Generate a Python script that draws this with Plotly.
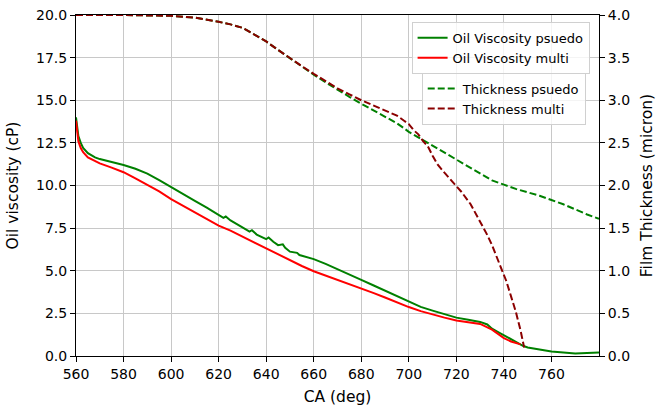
import plotly.graph_objects as go

# ---- data ----
visc_psuedo_x = [560, 561, 562, 563, 565, 568, 570, 575, 580, 585, 590, 595, 600, 605, 610, 615,
                 620, 622, 623, 625, 630, 633, 634, 636, 640, 641, 643, 645, 647, 648, 650, 653,
                 654, 656, 660, 665, 670, 675, 680, 685, 690, 695, 700, 705, 710, 715, 720, 725,
                 730, 733, 735, 737, 740, 744, 748, 750, 755, 760, 765, 770, 775, 780]
visc_psuedo_y = [14.0, 12.9, 12.5, 12.2, 11.9, 11.65, 11.55, 11.38, 11.2, 10.98, 10.7, 10.32, 9.9, 9.5, 9.1, 8.7,
                 8.28, 8.1, 8.18, 7.95, 7.55, 7.3, 7.38, 7.12, 6.85, 6.95, 6.7, 6.5, 6.55, 6.35, 6.12, 6.05,
                 5.92, 5.85, 5.68, 5.4, 5.1, 4.8, 4.47, 4.15, 3.83, 3.5, 3.17, 2.88, 2.66, 2.45, 2.25, 2.12,
                 2.0, 1.85, 1.6, 1.45, 1.22, 0.9, 0.6, 0.5, 0.36, 0.26, 0.2, 0.15, 0.18, 0.2]

visc_multi_x = [560, 561, 562, 563, 565, 570, 575, 580, 585, 590, 595, 600, 605, 610, 615, 620,
                625, 630, 635, 640, 645, 650, 655, 660, 665, 670, 675, 680, 685, 690, 695, 700,
                705, 710, 715, 720, 725, 730, 735, 740, 743, 746, 747]
visc_multi_y = [13.8, 12.6, 12.2, 11.95, 11.65, 11.3, 11.05, 10.78, 10.42, 10.05, 9.65, 9.2, 8.8, 8.4, 8.0, 7.65,
                7.35, 7.0, 6.65, 6.3, 5.95, 5.6, 5.28, 4.97, 4.72, 4.48, 4.22, 3.97, 3.7, 3.43, 3.14, 2.87,
                2.63, 2.42, 2.25, 2.08, 1.97, 1.88, 1.55, 1.05, 0.85, 0.72, 0.68]

thick_psuedo_x = [560, 580, 600, 610, 620, 625, 630, 635, 640, 645, 650, 655, 660, 665, 670, 675, 680,
                  685, 690, 695, 700, 705, 710, 715, 720, 725, 730, 735, 740, 745, 750, 755, 760, 765,
                  770, 775, 780]
thick_psuedo_y = [4.0, 4.0, 3.99, 3.97, 3.92, 3.89, 3.85, 3.77, 3.69, 3.59, 3.49, 3.39, 3.3, 3.21, 3.12,
                  3.04, 2.96, 2.88, 2.81, 2.73, 2.63, 2.55, 2.47, 2.39, 2.31, 2.22, 2.14, 2.06, 2.01, 1.96,
                  1.92, 1.88, 1.83, 1.78, 1.72, 1.66, 1.61]

thick_multi_x = [560, 580, 600, 610, 620, 625, 630, 635, 640, 645, 650, 655, 660, 665, 670, 675, 680,
                 685, 690, 695, 698, 700, 702, 704, 706, 708, 710, 712, 715, 718, 722, 726, 730, 733,
                 735, 737, 739, 741, 743, 745, 747, 748.5]
thick_multi_y = [4.0, 4.0, 3.99, 3.97, 3.92, 3.89, 3.85, 3.77, 3.69, 3.59, 3.49, 3.4, 3.31, 3.22, 3.14,
                 3.07, 3.0, 2.94, 2.88, 2.82, 2.76, 2.72, 2.65, 2.6, 2.52, 2.46, 2.35, 2.25, 2.15, 2.05,
                 1.93, 1.78, 1.58, 1.42, 1.3, 1.16, 1.02, 0.88, 0.7, 0.52, 0.3, 0.1]

x_ticks = [560, 580, 600, 620, 640, 660, 680, 700, 720, 740, 760]
y_ticks = [0.0, 2.5, 5.0, 7.5, 10.0, 12.5, 15.0, 17.5, 20.0]
y2_ticks = [0.0, 0.5, 1.0, 1.5, 2.0, 2.5, 3.0, 3.5, 4.0]

FONT = "DejaVu Sans"
DASH = "7px,3px"

fig = go.Figure()
fig.add_trace(go.Scatter(x=visc_psuedo_x, y=visc_psuedo_y, mode="lines", name="Oil Viscosity psuedo",
                         line=dict(color="#008000", width=2), legend="legend"))
fig.add_trace(go.Scatter(x=visc_multi_x, y=visc_multi_y, mode="lines", name="Oil Viscosity multi",
                         line=dict(color="#ff0000", width=2), legend="legend"))
fig.add_trace(go.Scatter(x=thick_psuedo_x, y=thick_psuedo_y, mode="lines", name="Thickness psuedo",
                         line=dict(color="#008000", width=2, dash=DASH), yaxis="y2", legend="legend2"))
fig.add_trace(go.Scatter(x=thick_multi_x, y=thick_multi_y, mode="lines", name="Thickness multi",
                         line=dict(color="#8b0000", width=2, dash=DASH), yaxis="y2", legend="legend2"))

axis_common = dict(showline=True, linecolor="black", linewidth=1, ticks="outside", ticklen=5,
                   tickcolor="black", tickfont=dict(family=FONT, size=14, color="black"), zeroline=False,
                   automargin=False)
TITLE_FONT = dict(family=FONT, size=15.5, color="black")

fig.update_layout(
    width=656, height=406,
    margin=dict(l=76, r=57, t=15, b=50),
    paper_bgcolor="white", plot_bgcolor="white",
    font=dict(family=FONT, size=14, color="black"),
    xaxis=dict(range=[560, 780], tickvals=x_ticks, showgrid=True, gridcolor="#c8c8c8", gridwidth=1,
               mirror=True, title=dict(text="CA (deg)", font=TITLE_FONT, standoff=12),
               **axis_common),
    yaxis=dict(range=[0, 20], tickvals=y_ticks, tickformat=".1f", showgrid=True, gridcolor="#c8c8c8",
               gridwidth=1, title=dict(text="Oil viscosity (cP)", font=TITLE_FONT, standoff=13),
               **axis_common),
    yaxis2=dict(range=[0, 4], tickvals=y2_ticks, tickformat=".1f", overlaying="y", side="right",
                showgrid=False, title=dict(text="Film Thickness (micron)", font=TITLE_FONT, standoff=17),
                **axis_common),
    legend=dict(x=0.982, y=0.98, xanchor="right", yanchor="top", bgcolor="rgba(255,255,255,0.8)",
                bordercolor="#d0d0d0", borderwidth=1, font=dict(family=FONT, size=13, color="black"),
                tracegroupgap=0),
    legend2=dict(x=0.9746, y=0.831, xanchor="right", yanchor="top", bgcolor="rgba(255,255,255,0.8)",
                 bordercolor="#d0d0d0", borderwidth=1, font=dict(family=FONT, size=13, color="black")),
    showlegend=True,
)

fig.write_html("out.html")
